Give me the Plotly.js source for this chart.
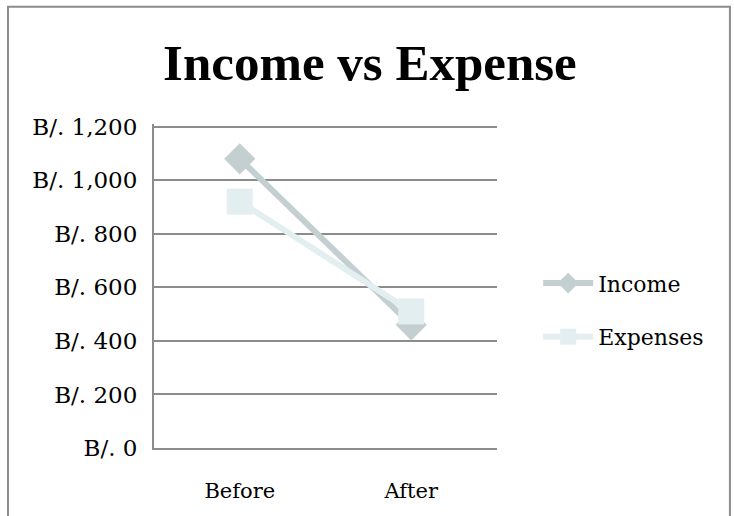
<!DOCTYPE html>
<html><head><meta charset="utf-8">
<script src="https://cdn.plot.ly/plotly-3.0.1.min.js"></script>
<style>html,body{margin:0;padding:0;background:#fff;}#chart{width:734px;height:516px;}</style>
</head><body><div id="chart"></div>
<script>
const categories = ["Before", "After"];
const incomeValues = [1080, 460];
const expenseValues = [920, 510];
const yTickValues = [0, 200, 400, 600, 800, 1000, 1200];
const yTickLabels = ["B/. 0", "B/. 200", "B/. 400", "B/. 600", "B/. 800", "B/. 1,000", "B/. 1,200"];

const fontFam = '"DejaVu Serif", "Liberation Serif", serif';
const titleFam = '"Liberation Serif", "DejaVu Serif", serif';
const traces = [
  {x: categories, y: incomeValues, name: "Income", type: "scatter", mode: "lines+markers", legendgroup: "a",
   line: {color: "#c4cfd2", width: 6}, marker: {symbol: "diamond", size: 24, color: "#c4cfd2"}},
  {x: categories, y: expenseValues, name: "Expenses", type: "scatter", mode: "lines+markers", legendgroup: "b",
   line: {color: "#e3eef0", width: 6}, marker: {symbol: "square", size: 26, color: "#e3eef0"}}
];
const layout = {
  width: 734, height: 516,
  margin: {l: 154, r: 237, t: 124, b: 68},
  paper_bgcolor: "#fff", plot_bgcolor: "#fff",
  font: {family: fontFam, color: "#000", size: 22},
  title: {text: "<b>Income vs Expense</b>", font: {size: 51, family: titleFam, color: "#000"},
          x: 0.504, xref: "container", xanchor: "center", y: 0.88, yref: "container", yanchor: "middle"},
  xaxis: {type: "category", range: [-0.5, 1.5], showgrid: false, showline: true, linecolor: "#8c8c8c", linewidth: 2,
          ticks: "", tickfont: {size: 21}, zeroline: false, ticklabelstandoff: 23},
  yaxis: {range: [0, 1210], tickvals: yTickValues, ticktext: yTickLabels, showgrid: true, gridcolor: "#8c8c8c", gridwidth: 2,
          showline: true, linecolor: "#8c8c8c", linewidth: 2, ticks: "", ticklen: 0, zeroline: false, tickfont: {size: 23}, ticklabelstandoff: 10},
  legend: {x: 1.12, y: 0.425, xanchor: "left", yanchor: "middle", font: {size: 22}, tracegroupgap: 22, traceorder: "grouped", itemwidth: 50},
  showlegend: true,
  shapes: [{type: "rect", xref: "paper", yref: "paper", x0: -0.4257, x1: 1.679, y0: -0.5, y1: 1.362,
            line: {color: "#8c8c8c", width: 2}, fillcolor: "rgba(0,0,0,0)"}]
};
Plotly.newPlot("chart", traces, layout, {displayModeBar: false, staticPlot: true});
</script></body></html>
